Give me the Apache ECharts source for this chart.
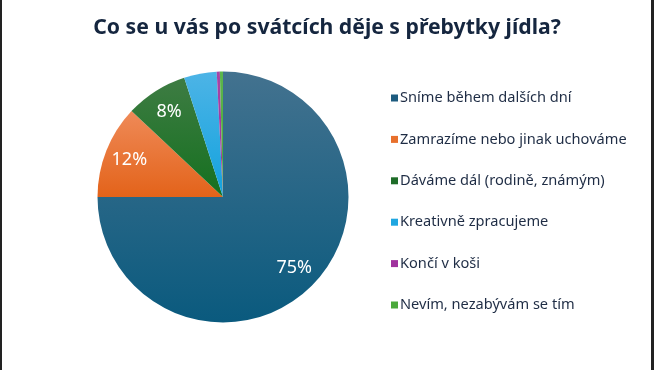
<!DOCTYPE html>
<html><head><meta charset="utf-8">
<script src="https://cdn.jsdelivr.net/npm/echarts@6/dist/echarts.min.js"></script>
<style>html,body{margin:0;padding:0;background:#fff}#c{width:654px;height:370px}</style>
</head><body><div id="c"></div>
<script>
const categories = ['Sníme během dalších dní','Zamrazíme nebo jinak uchováme','Dáváme dál (rodině, známým)','Kreativně zpracujeme','Končí v koši','Nevím, nezabývám se tím'];
const values = [75, 12, 8, 4.2, 0.4, 0.4];
const topColors = ['#43728f','#ef8a58','#3e7c43','#4db4e6','#a844a6','#5cb64c'];
const bottomColors = ['#0a5a7e','#e3631a','#15701f','#12a2de','#9c2e9a','#46a637'];
const solidColors = ['#1d5b7f','#e8702c','#1e6c28','#1fa6e0','#a0329e','#4ba93b'];

const chart = echarts.init(document.getElementById('c'), null, {renderer:'canvas'});
const grad = i => new echarts.graphic.LinearGradient(0,0,0,1,[{offset:0,color:topColors[i]},{offset:1,color:bottomColors[i]}]);
const font = '"Noto Sans", Roboto, sans-serif';
chart.setOption({
  animation:false,
  title:{text:'Co se u vás po svátcích děje s přebytky jídla?',left:'center',top:12,
    textStyle:{fontFamily:font,fontSize:21.2,fontWeight:'bold',color:'#15263f'}},
  legend:{orient:'vertical',left:386,top:84,itemWidth:7,itemHeight:7,itemGap:23.4,icon:'rect',
    textStyle:{fontFamily:font,fontSize:14.6,lineHeight:18,color:'#1f2d45',padding:[0,0,0,-3]},
    data:categories.map((n,i)=>({name:n,itemStyle:{color:solidColors[i]}}))},
  graphic:[
    {type:'rect',shape:{x:0,y:0,width:2,height:370},style:{fill:'#222'},z:100},
    {type:'rect',shape:{x:651,y:0,width:3,height:370},style:{fill:'#222'},z:100}
  ],
  series:[
    {type:'pie',center:[223,197],radius:[0,125.5],startAngle:90,clockwise:true,
     label:{show:false},labelLine:{show:false},silent:true,
     itemStyle:{borderWidth:0},
     data:categories.map((n,i)=>({name:n,value:values[i],itemStyle:{color:grad(i)}}))},
    {type:'pie',center:[223,197],radius:[70,125.5],startAngle:90,clockwise:true,silent:true,
     legendHoverLink:false,
     itemStyle:{color:'rgba(0,0,0,0)',borderWidth:0},labelLine:{show:false},
     label:{show:true,position:'inside',color:'#fff',fontFamily:font,fontSize:18,
       formatter:p=>p.value>=5?Math.round(p.value)+'%':''},
     data:categories.map((n,i)=>({name:n+' ',value:values[i]}))}
  ]
});
</script></body></html>
